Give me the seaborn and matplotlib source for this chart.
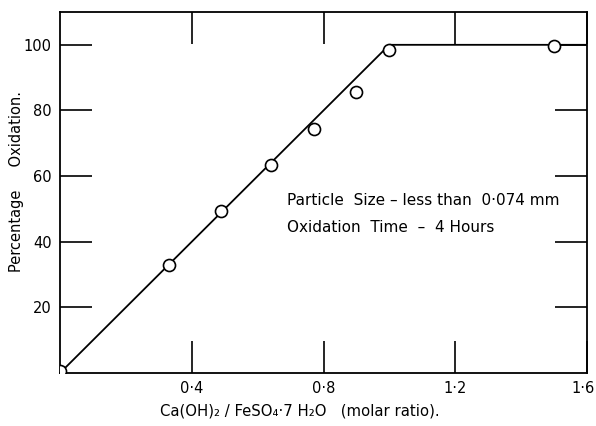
import matplotlib
matplotlib.use("Agg")
import matplotlib.pyplot as plt
import matplotlib.transforms as mtransforms
import seaborn as sns
import pandas as pd

# Data
ratio = [0.0, 0.33, 0.49, 0.64, 0.77, 0.90, 1.00, 1.50]
oxidation = [0.5, 33.0, 49.5, 63.5, 74.5, 85.5, 98.5, 99.7]
fit_ratio = [0.0, 1.0, 1.6]
fit_oxidation = [0.0, 100.0, 100.0]
x_ticks = [0.4, 0.8, 1.2, 1.6]
x_tick_labels = ["0·4", "0·8", "1·2", "1·6"]
y_ticks = [20, 40, 60, 80, 100]
y_tick_labels = ["20", "40", "60", "80", "100"]

pts = pd.DataFrame({"ratio": ratio, "oxidation": oxidation})
fit = pd.DataFrame({"ratio": fit_ratio, "oxidation": fit_oxidation})

sns.set_theme(style="ticks")
plt.rcParams["font.family"] = ["DejaVu Sans"]
plt.rcParams["text.color"] = "black"
plt.rcParams["axes.labelcolor"] = "black"

fig = plt.figure(figsize=(5.96, 4.26), dpi=100)
ax = fig.add_axes([60/596, (426-373)/426, (587-60)/596, (373-12)/426])

sns.lineplot(data=fit, x="ratio", y="oxidation", ax=ax, color="black",
             linewidth=1.3, zorder=2)
sns.scatterplot(data=pts, x="ratio", y="oxidation", ax=ax, marker="o",
                s=75, facecolor="white", edgecolor="black", linewidth=1.2,
                zorder=3)

ax.set_xlim(0, 1.6)
ax.set_ylim(0, 110)
ax.set_xticks(x_ticks)
ax.set_xticklabels(x_tick_labels)
ax.set_yticks(y_ticks)
ax.set_yticklabels(y_tick_labels)
ax.tick_params(axis="both", which="major", direction="in", length=23,
               width=1.2, top=True, right=True, labelsize=10.5,
               colors="black", pad=6)
for s in ax.spines.values():
    s.set_linewidth(1.3)
    s.set_color("black")

# nudge the last x tick label so it stays inside the figure
last = ax.get_xticklabels()[-1]
last.set_transform(last.get_transform() +
                   mtransforms.ScaledTranslation(-4/100, 0, fig.dpi_scale_trans))

ax.set_xlabel("Ca(OH)₂ / FeSO₄·7 H₂O   (molar ratio).", fontsize=10.7)
ax.xaxis.set_label_coords(0.455, -0.085)
ax.set_ylabel("Percentage     Oxidation.", fontsize=10.5)
ax.yaxis.set_label_coords(-0.068, 0.53)

ax.text(0.69, 52.5, "Particle  Size – less than  0·074 mm", fontsize=11,
        va="center", ha="left", color="black")
ax.text(0.69, 44.3, "Oxidation  Time  –  4 Hours", fontsize=11,
        va="center", ha="left", color="black")

fig.savefig("out.png", dpi=100, facecolor="white")
